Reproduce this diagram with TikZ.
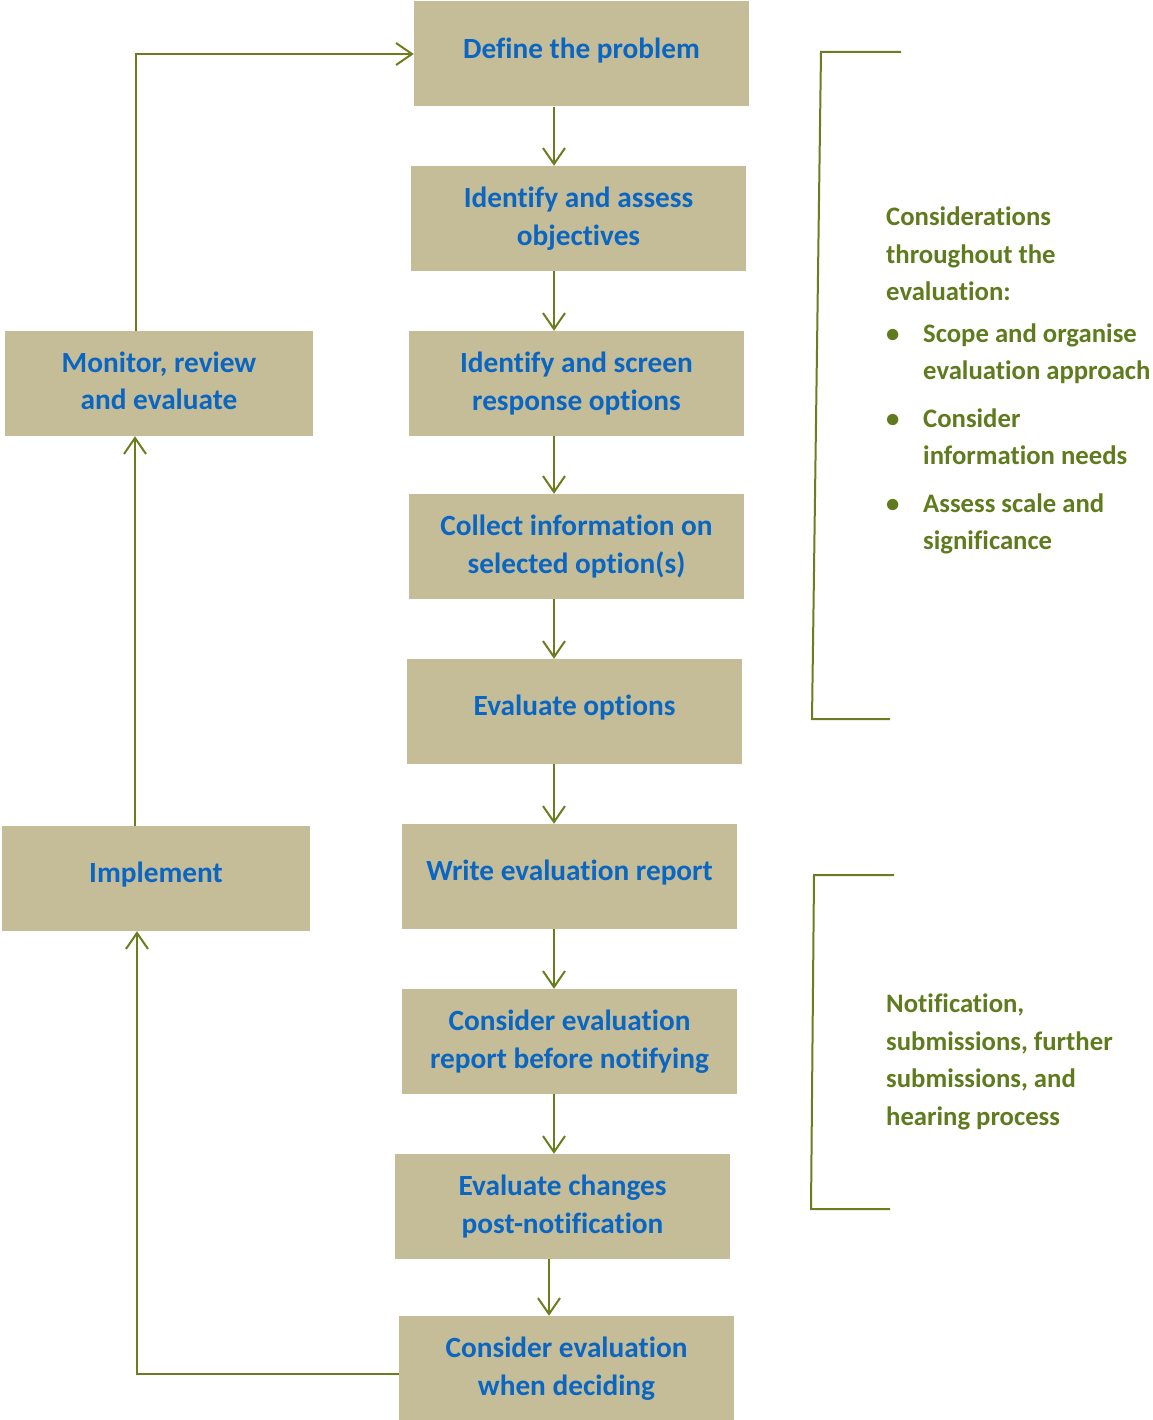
\documentclass[tikz,border=0pt]{standalone}
\usepackage{fontspec}
\setmainfont{Carlito}[Ligatures=NoCommon]
\usetikzlibrary{arrows.meta,positioning}
\definecolor{boxfill}{HTML}{C4BD97}
\definecolor{boxtext}{HTML}{0A66C2}
\definecolor{olivetext}{HTML}{5F7B1E}
\definecolor{oliveline}{HTML}{6B7D1F}
\newcommand{\upone}[1]{\raisebox{12pt}{#1}}
\tikzset{
  x=1pt, y=-1pt,
  stepbox/.style={fill=boxfill, draw=none, inner sep=0pt, minimum width=335pt, minimum height=105pt,
    align=center, text=boxtext, font=\fontsize{29.3}{37.5}\selectfont\bfseries},
  sidebox/.style={stepbox, minimum width=308pt},
  connline/.style={draw=oliveline, line width=2pt},
  arr/.style={connline, -{Straight Barb[length=16pt,width=22pt,line width=2pt]}},
  note/.style={anchor=north west, inner sep=0pt, align=left, text=olivetext,
    font=\fontsize{26.7}{37.5}\selectfont\bfseries},
}
\begin{document}
\begin{tikzpicture}
\useasboundingbox (0,0) rectangle (1152,1420);
% main column
\node[stepbox] (def) at (581.5,54) {\upone{Define the problem}};
\node[stepbox] (obj) at (578.5,218.5) {Identify and assess\\objectives};
\node[stepbox] (scr) at (576.5,383.5) {Identify and screen\\response options};
\node[stepbox] (col) at (576.5,546.5) {Collect information on\\selected option(s)};
\node[stepbox] (evo) at (574.5,711.5) {\upone{Evaluate options}};
\node[stepbox] (wri) at (569.5,876.5) {\upone{Write evaluation report}};
\node[stepbox] (cer) at (569.5,1041.5) {Consider evaluation\\report before notifying};
\node[stepbox] (ecp) at (562.5,1206.5) {Evaluate changes\\post-notification};
\node[stepbox] (ced) at (566.5,1368.5) {Consider evaluation\\when deciding};
% side column
\node[sidebox] (mon) at (159,383.5) {\raisebox{6pt}{\begin{tabular}{@{}c@{}}Monitor, review\\and evaluate\end{tabular}}};
\node[sidebox] (imp) at (156,878.5) {\upone{Implement}};
% vertical arrows
\foreach \a/\b in {def/obj, obj/scr, scr/col, col/evo, evo/wri, wri/cer, cer/ecp}{
  \draw[arr] (\a.south -| 554,0) -- (\b.north -| 554,0);
}
\draw[arr] (ecp.south -| 549,0) -- (ced.north -| 549,0);
% loop
\draw[arr] ([yshift=-5.5pt]ced.west) -| ([xshift=-19pt]imp.south);
\draw[arr] ([xshift=-21pt]imp.north) -- ([xshift=-21pt]imp.north |- mon.south);
\draw[arr] ([xshift=-23pt]mon.north) |- (def.west);
% brackets
\coordinate (b1a) at (901,52);
\coordinate (b1b) at (821,52);
\coordinate (b1c) at (812,719);
\coordinate (b1d) at (890,719);
\draw[connline] (b1a) -- (b1b) -- (b1c) -- (b1d);
\coordinate (b2a) at (894,875);
\coordinate (b2b) at (814,875);
\coordinate (b2c) at (811,1209);
\coordinate (b2d) at (890,1209);
\draw[connline] (b2a) -- (b2b) -- (b2c) -- (b2d);
% notes
\node[note] (n1) at (886,207) {Considerations\\throughout the\\evaluation:\\[4pt]
\makebox[37pt][l]{•}Scope and organise\\\hspace*{37pt}evaluation approach\\[10pt]
\makebox[37pt][l]{•}Consider\\\hspace*{37pt}information needs\\[10pt]
\makebox[37pt][l]{•}Assess scale and\\\hspace*{37pt}significance};
\node[note] (n2) at (886,994) {Notification,\\submissions, further\\submissions, and\\hearing process};
\end{tikzpicture}
\end{document}
